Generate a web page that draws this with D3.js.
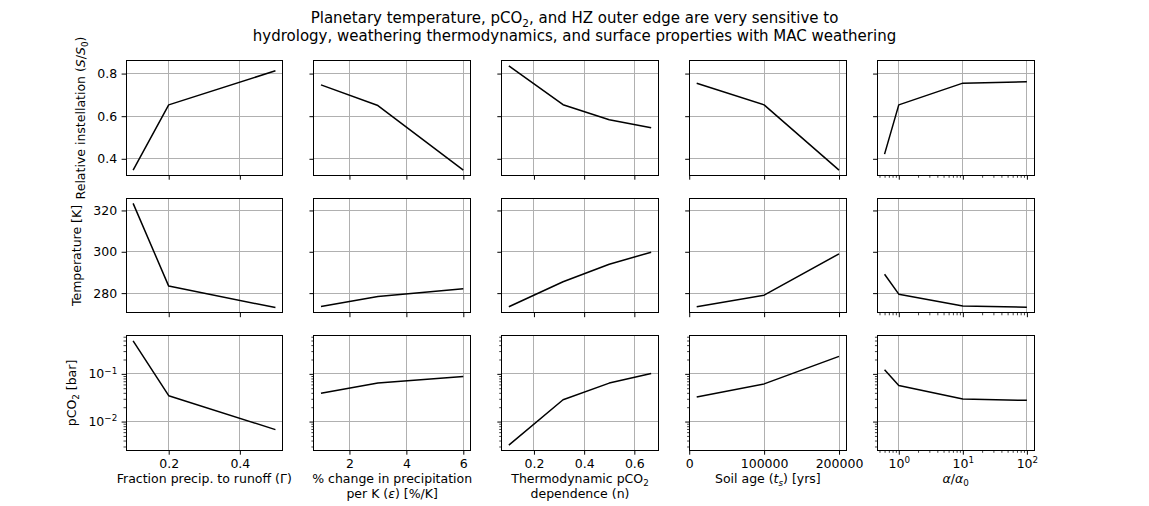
<!DOCTYPE html>
<html>
<head>
<meta charset="utf-8">
<script src="https://cdn.jsdelivr.net/npm/d3@7"></script>
<style>
  body { margin: 0; background: #fff; }
  text { font-family: "DejaVu Sans", sans-serif; fill: #000; }
</style>
</head>
<body>
<div id="chart"></div>
<script>
// x values for each column
const gammaVals = [0.1, 0.2, 0.5]
const epsVals = [1, 3, 6]
const nVals = [0.1, 0.316, 0.5, 0.667]
const soilVals = [10000, 100000, 200000]
const alphaVals = [0.6, 1, 10, 100]

// relative instellation S/S0 (top row)
const instGamma = [0.347, 0.653, 0.813]
const instEps = [0.747, 0.65, 0.347]
const instN = [0.836, 0.654, 0.583, 0.546]
const instSoil = [0.755, 0.653, 0.347]
const instAlpha = [0.422, 0.653, 0.755, 0.762]

// temperature [K] (middle row)
const tempGamma = [323.4, 283.4, 273.0]
const tempEps = [273.5, 278.4, 282.1]
const tempN = [273.4, 285.5, 294.0, 299.8]
const tempSoil = [273.4, 279.0, 299.0]
const tempAlpha = [289.1, 279.5, 273.8, 273.2]

// pCO2 [bar] (bottom row)
const pco2Gamma = [0.49, 0.0348, 0.00678]
const pco2Eps = [0.039, 0.0645, 0.088]
const pco2N = [0.00321, 0.0287, 0.064, 0.1016]
const pco2Soil = [0.0327, 0.0615, 0.232]
const pco2Alpha = [0.1215, 0.0568, 0.0296, 0.0278]

// tick values
const gammaTicks = [0.2, 0.4]
const epsTicks = [2, 4, 6]
const nTicks = [0.2, 0.4, 0.6]
const soilTicks = [0, 100000, 200000]
const alphaTicks = [1, 10, 100]
const instTicks = [0.4, 0.6, 0.8]
const tempTicks = [280, 300, 320]
const pco2Ticks = [0.01, 0.1]

const width = 1149, height = 506
const margin = { left: 126, right: 1034, top: 60.7, bottom: 450.3 }
const wspace = 0.2, hspace = 0.2
const fs = 12.5

const pw = (margin.right - margin.left) / (5 + 4 * wspace)
const ph = (margin.bottom - margin.top) / (3 + 2 * hspace)

const cols = [
    { x: gammaVals, ticks: gammaTicks, log: false,
      label: [[{ t: "Fraction precip. to runoff (Γ)" }]] },
    { x: epsVals, ticks: epsTicks, log: false,
      label: [[{ t: "% change in precipitation" }],
              [{ t: "per K (" }, { t: "ε", it: true }, { t: ") [%/K]" }]] },
    { x: nVals, ticks: nTicks, log: false,
      label: [[{ t: "Thermodynamic pCO" }, { t: "2", sub: true }],
              [{ t: "dependence (n)" }]] },
    { x: soilVals, ticks: soilTicks, log: false,
      label: [[{ t: "Soil age (" }, { t: "t", it: true }, { t: "s", it: true, sub: true }, { t: ") [yrs]" }]] },
    { x: alphaVals, ticks: alphaTicks, log: true,
      label: [[{ t: "α", it: true }, { t: "/" }, { t: "α", it: true }, { t: "0", sub: true }]] }
]

const rows = [
    { vals: [instGamma, instEps, instN, instSoil, instAlpha], ticks: instTicks, log: false,
      label: [{ t: "Relative instellation (" }, { t: "S", it: true }, { t: "/" }, { t: "S", it: true }, { t: "0", sub: true }, { t: ")" }] },
    { vals: [tempGamma, tempEps, tempN, tempSoil, tempAlpha], ticks: tempTicks, log: false,
      label: [{ t: "Temperature [K]" }] },
    { vals: [pco2Gamma, pco2Eps, pco2N, pco2Soil, pco2Alpha], ticks: pco2Ticks, log: true,
      label: [{ t: "pCO" }, { t: "2", sub: true }, { t: " [bar]" }] }
]

// text with italic / sub / superscript pieces; base = initial dy in px
function richText(sel, parts, size, base = 0) {
    let shift = -base
    parts.forEach(p => {
        const target = p.sub ? 0.24 * size : p.sup ? -0.38 * size : 0
        sel.append("tspan")
            .attr("dy", target - shift)
            .attr("font-size", (p.sub || p.sup) ? size * 0.7 : size)
            .attr("font-style", p.it ? "italic" : null)
            .text(p.t)
        shift = target
    })
}

// 5% padding like matplotlib autoscale
function padded(vals, log) {
    const [a, b] = d3.extent(vals)
    if (log) {
        const la = Math.log10(a), lb = Math.log10(b), m = (lb - la) * 0.05
        return [10 ** (la - m), 10 ** (lb + m)]
    }
    const m = (b - a) * 0.05
    return [a - m, b + m]
}

function logMinor(domain) {
    const out = []
    for (let e = Math.floor(Math.log10(domain[0])); e <= Math.ceil(Math.log10(domain[1])); e++)
        for (let k = 2; k <= 9; k++) {
            const v = k * 10 ** e
            if (v >= domain[0] && v <= domain[1]) out.push(v)
        }
    return out
}

const svg = d3.select("#chart").append("svg")
    .attr("width", width)
    .attr("height", height)

svg.append("rect").attr("width", width).attr("height", height).attr("fill", "#fff")

// Title
const title = [
    [{ t: "Planetary temperature, pCO" }, { t: "2", sub: true }, { t: ", and HZ outer edge are very sensitive to" }],
    [{ t: "hydrology, weathering thermodynamics, and surface properties with MAC weathering" }]
]
title.forEach((line, i) => {
    const t = svg.append("text")
        .attr("x", width / 2)
        .attr("y", 23 + i * 18)
        .attr("text-anchor", "middle")
        .attr("font-size", 15)
    richText(t, line, 15)
})

const xScales = cols.map(col => {
    const s = col.log ? d3.scaleLog() : d3.scaleLinear()
    return s.domain(padded(col.x, col.log)).range([0, pw])
})
const yScales = rows.map(row => {
    const s = row.log ? d3.scaleLog() : d3.scaleLinear()
    return s.domain(padded(row.vals.flat(), row.log)).range([ph, 0])
})

rows.forEach((row, r) => {
    cols.forEach((col, c) => {
        const x = xScales[c], y = yScales[r]
        const x0 = margin.left + c * pw * (1 + wspace)
        const y0 = margin.top + r * ph * (1 + hspace)
        const g = svg.append("g").attr("transform", `translate(${x0},${y0})`)

        // Grid
        g.append("g")
            .attr("stroke", "#b0b0b0")
            .attr("stroke-width", 1)
            .attr("shape-rendering", "crispEdges")
            .call(gg => gg.selectAll(".gx")
                .data(col.ticks)
                .join("line")
                .attr("x1", d => x(d)).attr("x2", d => x(d))
                .attr("y1", 0).attr("y2", ph))
            .call(gg => gg.selectAll(".gy")
                .data(row.ticks)
                .join("line")
                .attr("x1", 0).attr("x2", pw)
                .attr("y1", d => y(d)).attr("y2", d => y(d)))

        // Data line
        g.append("path")
            .datum(row.vals[c])
            .attr("fill", "none")
            .attr("stroke", "#000")
            .attr("stroke-width", 1.5)
            .attr("stroke-linejoin", "round")
            .attr("d", d3.line().x((d, i) => x(col.x[i])).y(d => y(d)))

        // Frame
        g.append("rect")
            .attr("width", pw).attr("height", ph)
            .attr("fill", "none")
            .attr("stroke", "#000")
            .attr("stroke-width", 1)
            .attr("shape-rendering", "crispEdges")

        const showX = r === rows.length - 1
        const showY = c === 0

        // x axis
        const xAxis = g.append("g")
            .attr("transform", `translate(0,${ph})`)
            .call(d3.axisBottom(x).tickValues(col.ticks).tickSize(4.4).tickPadding(4.4)
                .tickFormat(d => showX ? (col.log ? "" : String(d)) : ""))
            .attr("font-size", fs).attr("font-family", null)
        xAxis.select(".domain").remove()
        if (showX && col.log) {
            xAxis.selectAll(".tick text").attr("dy", null).each(function (d) {
                richText(d3.select(this), [{ t: "10" }, { t: String(Math.round(Math.log10(d))), sup: true }], fs, 0.71 * fs)
            })
        }
        if (col.log) {
            g.append("g")
                .attr("transform", `translate(0,${ph})`)
                .call(d3.axisBottom(x).tickValues(logMinor(x.domain())).tickSize(2.5).tickFormat(""))
                .call(gg => gg.select(".domain").remove())
                .selectAll("line").attr("stroke-width", 0.75)
        }

        // y axis
        const yAxis = g.append("g")
            .call(d3.axisLeft(y).tickValues(row.ticks).tickSize(4.4).tickPadding(4.4)
                .tickFormat(d => showY ? (row.log ? "" : String(d)) : ""))
            .attr("font-size", fs).attr("font-family", null)
        yAxis.select(".domain").remove()
        if (showY && row.log) {
            yAxis.selectAll(".tick text").attr("dy", null).each(function (d) {
                richText(d3.select(this), [{ t: "10" }, { t: "\u2212" + Math.abs(Math.round(Math.log10(d))), sup: true }], fs, 0.32 * fs)
            })
        }
        if (row.log) {
            g.append("g")
                .call(d3.axisLeft(y).tickValues(logMinor(y.domain())).tickSize(2.5).tickFormat(""))
                .call(gg => gg.select(".domain").remove())
                .selectAll("line").attr("stroke-width", 0.75)
        }

        // y label
        if (showY) {
            let minX = 0
            yAxis.selectAll(".tick text").each(function () {
                minX = Math.min(minX, this.getBBox().x - 4.4)
            })
            const lx = minX - 5 - 3
            const t = g.append("text")
                .attr("transform", `translate(${lx},${ph / 2}) rotate(-90)`)
                .attr("text-anchor", "middle")
                .attr("font-size", fs)
            richText(t, row.label, fs)
        }

        // x label
        if (showX) {
            col.label.forEach((line, i) => {
                const t = g.append("text")
                    .attr("x", pw / 2)
                    .attr("y", ph + 32.7 + i * 15.3)
                    .attr("text-anchor", "middle")
                    .attr("font-size", fs)
                richText(t, line, fs)
            })
        }
    })
})
</script>
</body>
</html>
